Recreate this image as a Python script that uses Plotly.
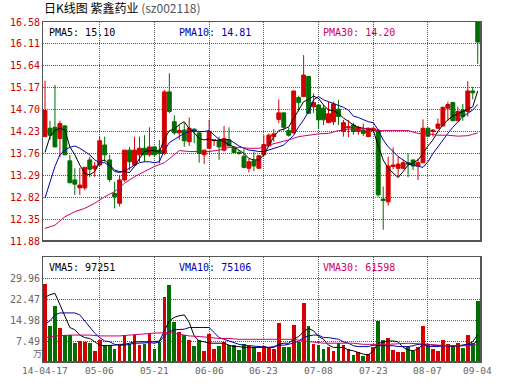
import plotly.graph_objects as go

# ---------------- data ----------------
bar_idx = list(range(88))
open_ = [14.12, 14.30, 14.32, 14.08, 14.35, 13.60, 13.19, 13.02, 13.02, 13.62,
         13.43, 13.51, 13.94, 13.62, 12.90, 12.69, 13.19, 13.83, 13.51, 13.73,
         13.87, 13.73, 13.90, 13.83, 13.76, 15.08, 14.44, 14.20, 14.26, 14.01,
         14.28, 14.20, 13.73, 13.87, 14.04, 14.03, 13.83, 14.05, 13.89, 13.78,
         13.70, 13.44, 13.60, 13.44, 13.73, 13.92, 14.12, 14.49, 14.63, 14.25,
         14.20, 14.96, 14.98, 15.41, 14.76, 14.80, 14.73, 14.42, 14.44, 14.71,
         14.23, 14.31, 14.37, 14.23, 14.26, 14.12, 14.25, 14.26, 12.78, 12.72,
         13.48, 13.44, 13.44, 13.56, 13.62, 13.49, 13.56, 14.30, 14.23, 14.30,
         14.35, 14.73, 14.85, 14.46, 14.69, 14.66, 15.10, 16.58]
high = [15.32, 14.46, 15.23, 14.46, 14.37, 13.73, 13.44, 13.45, 13.47, 13.69,
        13.58, 14.12, 14.12, 13.73, 13.15, 13.30, 13.83, 13.90, 14.12, 14.12,
        14.15, 14.32, 13.90, 14.05, 15.12, 15.48, 14.58, 14.37, 14.41, 14.53,
        14.30, 14.23, 13.83, 14.48, 14.05, 14.12, 14.35, 14.32, 13.92, 13.83,
        13.85, 13.65, 13.80, 13.73, 14.15, 14.19, 14.28, 14.92, 14.63, 14.32,
        15.10, 15.00, 15.87, 15.42, 15.05, 14.80, 14.80, 14.87, 14.87, 14.91,
        14.48, 14.47, 14.42, 14.35, 14.40, 14.30, 14.32, 14.28, 13.05, 13.69,
        13.89, 13.69, 13.62, 13.76, 13.62, 13.65, 14.49, 14.32, 14.28, 14.51,
        14.76, 14.87, 14.87, 14.76, 14.82, 15.31, 15.19, 16.58]
low = [14.12, 14.05, 13.89, 13.68, 13.72, 13.12, 12.87, 12.87, 12.97, 13.25,
       13.26, 13.49, 13.58, 13.15, 12.58, 12.62, 13.15, 13.40, 13.49, 13.58,
       13.58, 13.69, 13.69, 13.55, 13.73, 14.62, 14.16, 14.05, 13.90, 13.92,
       13.98, 13.56, 13.53, 13.85, 13.92, 13.62, 13.80, 13.92, 13.76, 13.73,
       13.44, 13.35, 13.38, 13.44, 13.71, 13.92, 14.01, 14.41, 14.25, 14.12,
       14.18, 14.66, 14.98, 14.61, 14.63, 14.28, 14.37, 14.41, 14.37, 14.37,
       14.12, 14.11, 14.16, 14.16, 14.13, 14.12, 14.20, 12.83, 12.12, 12.64,
       13.42, 13.25, 13.42, 13.25, 13.40, 13.19, 13.55, 14.12, 14.12, 14.28,
       14.33, 14.46, 14.46, 14.46, 14.46, 14.55, 14.92, 15.68]
close = [14.68, 14.15, 13.90, 14.40, 13.73, 13.13, 13.10, 13.08, 13.46, 13.42,
         13.49, 14.03, 13.73, 13.20, 12.83, 13.19, 13.83, 13.58, 13.83, 13.87,
         13.73, 13.90, 13.73, 13.76, 15.08, 14.66, 14.20, 14.25, 14.03, 14.30,
         14.23, 13.76, 13.83, 14.23, 14.05, 13.90, 14.08, 13.92, 13.78, 13.76,
         13.46, 13.58, 13.49, 13.71, 13.95, 14.15, 14.18, 14.63, 14.32, 14.15,
         15.10, 14.85, 15.44, 14.62, 14.85, 14.48, 14.48, 14.61, 14.82, 14.55,
         14.42, 14.33, 14.23, 14.32, 14.19, 14.30, 14.30, 12.87, 12.75, 13.49,
         13.51, 13.53, 13.56, 13.53, 13.49, 13.56, 14.30, 14.13, 14.26, 14.39,
         14.75, 14.81, 14.46, 14.66, 14.55, 15.10, 15.06, 16.15]
volume = [28.0, 12.9, 19.9, 12.0, 9.7, 9.7, 6.9, 7.5, 7.3, 6.9,
          4.0, 7.9, 6.0, 6.0, 4.8, 6.0, 9.7, 6.3, 9.7, 6.0,
          6.3, 9.9, 4.8, 7.2, 23.1, 27.3, 14.1, 10.8, 9.7, 7.9,
          5.8, 7.9, 4.0, 9.9, 4.8, 5.8, 7.3, 6.0, 6.0, 4.3,
          6.3, 5.8, 5.4, 3.4, 5.8, 5.5, 4.6, 13.8, 5.5, 5.2,
          13.3, 7.2, 21.0, 12.7, 6.6, 6.1, 4.8, 5.2, 4.0, 6.7,
          6.1, 4.6, 2.5, 3.4, 2.2, 3.0, 5.2, 14.7, 7.9, 8.7,
          4.3, 3.6, 3.6, 5.5, 4.0, 5.2, 12.7, 6.0, 4.6, 4.0,
          7.9, 6.3, 5.5, 6.7, 5.0, 9.7, 6.7, 21.6]

pma5 = [13.78, 14.12, 14.25, 14.30, 14.26, 13.90, 13.73, 13.51, 13.33, 13.30,
        13.37, 13.58, 13.62, 13.51, 13.40, 13.37, 13.37, 13.35, 13.48, 13.65,
        13.80, 13.82, 13.82, 13.80, 14.06, 14.25, 14.28, 14.38, 14.44, 14.29,
        14.20, 14.08, 14.05, 14.07, 14.03, 14.05, 14.01, 13.94, 13.90, 13.83,
        13.76, 13.65, 13.62, 13.62, 13.73, 13.92, 14.12, 14.25, 14.28, 14.33,
        14.51, 14.69, 14.87, 14.92, 14.99, 14.94, 14.80, 14.69, 14.68, 14.62,
        14.52, 14.45, 14.37, 14.32, 14.30, 14.28, 14.26, 13.92, 13.62, 13.44,
        13.33, 13.24, 13.37, 13.51, 13.55, 13.62, 13.76, 13.92, 14.05, 14.23,
        14.37, 14.48, 14.56, 14.61, 14.66, 14.71, 14.76, 15.10]
pma10 = [12.80, 13.12, 13.48, 13.73, 13.83, 13.89, 13.92, 13.87, 13.80, 13.73,
         13.62, 13.56, 13.56, 13.49, 13.37, 13.35, 13.39, 13.44, 13.51, 13.56,
         13.58, 13.58, 13.56, 13.58, 13.83, 13.99, 14.06, 14.12, 14.19, 14.23,
         14.25, 14.23, 14.23, 14.25, 14.15, 14.06, 14.05, 14.06, 13.99, 13.92,
         13.87, 13.83, 13.82, 13.80, 13.80, 13.83, 13.87, 13.90, 13.94, 14.05,
         14.15, 14.33, 14.48, 14.66, 14.91, 14.98, 14.91, 14.87, 14.83, 14.78,
         14.75, 14.69, 14.56, 14.53, 14.49, 14.44, 14.42, 14.26, 14.05, 13.90,
         13.80, 13.69, 13.62, 13.55, 13.51, 13.48, 13.46, 13.58, 13.76, 13.90,
         14.05, 14.19, 14.32, 14.44, 14.55, 14.62, 14.69, 14.81]
pma30_idx = [0, 2, 4, 6, 8, 10, 12, 14, 16, 18, 20, 22, 24, 26, 27, 29, 31, 33,
             35, 37, 39, 41, 43, 44, 45, 47, 49, 51, 53, 55, 57, 59, 61, 63, 65,
             67, 69, 71, 73, 75, 77, 79, 81, 83, 85, 86, 87]
pma30 = [12.15, 12.22, 12.40, 12.51, 12.58, 12.69, 12.83, 12.94, 13.12, 13.26,
         13.37, 13.48, 13.56, 13.73, 13.82, 13.80, 13.80, 13.80, 13.83, 13.89,
         13.89, 13.87, 13.87, 13.89, 13.94, 13.99, 14.05, 14.12, 14.15, 14.18,
         14.19, 14.25, 14.28, 14.28, 14.30, 14.25, 14.25, 14.25, 14.25, 14.19,
         14.18, 14.15, 14.15, 14.13, 14.14, 14.17, 14.20]

vma5 = [23.1, 24.0, 24.5, 20.4, 15.9, 12.3, 11.5, 9.6, 8.7, 8.4,
        7.2, 6.0, 5.8, 5.8, 6.0, 6.3, 6.3, 6.7, 7.2, 7.2,
        7.2, 7.2, 7.2, 7.5, 11.1, 14.7, 15.9, 16.5, 16.8, 14.1,
        9.3, 7.5, 7.2, 6.7, 6.7, 6.7, 6.7, 6.0, 5.5, 5.5,
        5.2, 5.2, 5.2, 5.2, 5.2, 5.2, 5.2, 6.3, 6.7, 6.7,
        8.1, 9.1, 10.8, 12.0, 11.1, 9.1, 8.1, 6.0, 5.2, 5.2,
        5.2, 4.3, 4.0, 3.4, 2.8, 2.5, 4.0, 6.7, 7.2, 7.5,
        7.5, 7.2, 5.2, 4.3, 4.0, 4.6, 6.3, 6.3, 6.0, 5.8,
        5.8, 5.8, 5.5, 5.8, 6.0, 6.3, 7.2, 9.73]
vma10 = [13.5, 14.7, 16.8, 17.5, 17.5, 17.5, 17.5, 16.8, 14.7, 12.3,
         10.3, 8.7, 7.5, 7.2, 6.3, 6.0, 6.0, 6.3, 6.7, 6.7,
         6.9, 6.9, 6.7, 7.2, 9.3, 10.8, 11.5, 11.7, 11.7, 12.3,
         12.3, 12.3, 12.3, 12.3, 10.5, 8.7, 8.1, 7.5, 6.7, 6.3,
         6.0, 5.8, 5.8, 5.5, 5.2, 5.2, 5.5, 6.0, 6.0, 6.3,
         6.7, 7.5, 8.7, 9.3, 9.6, 9.6, 8.7, 8.7, 8.4, 8.1,
         7.2, 6.7, 5.8, 5.5, 5.5, 5.5, 6.0, 5.8, 5.8, 5.8,
         5.8, 5.5, 5.5, 5.5, 5.8, 6.3, 6.3, 5.5, 5.5, 5.5,
         5.8, 5.8, 5.8, 5.8, 5.8, 6.3, 6.3, 7.51]
vma30_idx = [0, 2, 5, 9, 11, 15, 17, 19, 21, 22, 25, 27, 29, 31, 33, 35, 37,
             39, 44, 50, 52, 54, 56, 62, 64, 69, 73, 77, 79, 83, 85, 87]
vma30 = [8.7, 9.3, 9.6, 9.6, 9.3, 9.3, 9.6, 9.9, 10.2, 10.3, 10.5, 9.9, 9.3,
         9.1, 8.7, 8.4, 8.4, 8.1, 8.1, 8.1, 7.5, 7.2, 6.7, 6.7, 6.3, 6.3, 6.7,
         6.3, 6.0, 5.8, 5.8, 6.16]

date_pos = [0, 11, 22, 33, 44, 55, 66, 77, 87]
date_labels = ["14-04-17", "05-06", "05-21", "06-06", "06-23",
               "07-08", "07-23", "08-07", "09-04"]
price_ticks = [11.88, 12.35, 12.82, 13.29, 13.76, 14.23, 14.70, 15.17, 15.64, 16.11, 16.58]
price_labels = ["11.88", "12.35", "12.82", "13.29", "13.76", "14.23",
                "14.70", "15.17", "15.64", "16.11", "16.58"]
vol_ticks = [7.49, 14.98, 22.47, 29.96]
vol_labels = ["7.49", "14.98", "22.47", "29.96"]
vol_unit = "万"
title_main = "日K线图 紫鑫药业"
title_code = "(sz002118)"
price_legend = ["PMA5: 15.10", "PMA10: 14.81", "PMA30: 14.20"]
vol_legend = ["VMA5: 97251", "VMA10: 75106", "VMA30: 61598"]

# ---------------- styles ----------------
RED = "#d20000"
GREEN = "#006e00"
BLUE = "#0000aa"
MAG = "#cc0066"
GRID = "#555555"
MONO = "DejaVu Sans Mono"
CJK = "Noto Sans CJK SC"

W, H = 530, 391
ML, MR, MT, MB = 43, 49, 22, 29
PW = W - ML - MR
PH = H - MT - MB


def px_x(p):
    return (p - ML) / PW


def px_y(p):
    return (H - MB - p) / PH


XR = [-0.4, 87.66]

fig = go.Figure()

fig.add_trace(go.Candlestick(
    x=bar_idx, open=open_, high=high, low=low, close=close,
    increasing=dict(line=dict(color=RED, width=1), fillcolor=RED),
    decreasing=dict(line=dict(color=GREEN, width=1), fillcolor=GREEN),
    whiskerwidth=0, xaxis="x", yaxis="y", hoverinfo="skip", showlegend=False))

for ys, xs, col in [(pma5, bar_idx, "#000000"), (pma10, bar_idx, BLUE),
                    (pma30, pma30_idx, MAG)]:
    fig.add_trace(go.Scatter(x=xs, y=ys, mode="lines", line=dict(color=col, width=1),
                             xaxis="x", yaxis="y", hoverinfo="skip", showlegend=False))

vol_colors = [RED if c >= o else GREEN for o, c in zip(open_, close)]
fig.add_trace(go.Bar(x=bar_idx, y=volume, marker=dict(color=vol_colors, line=dict(width=0)),
                     width=0.75, xaxis="x2", yaxis="y2", hoverinfo="skip", showlegend=False))

for ys, xs, col in [(vma5, bar_idx, "#000000"), (vma10, bar_idx, BLUE),
                    (vma30, vma30_idx, MAG)]:
    fig.add_trace(go.Scatter(x=xs, y=ys, mode="lines", line=dict(color=col, width=1),
                             xaxis="x2", yaxis="y2", hoverinfo="skip", showlegend=False))

grid_pos = date_pos[1:-1]
axis_common = dict(showgrid=True, gridcolor=GRID, griddash="1px,1px", gridwidth=1,
                   showline=True, mirror=True, linecolor=GRID, linewidth=1,
                   zeroline=False, ticks="", fixedrange=True, automargin=False)

price_dom = [px_y(241), 1]
vol_dom = [0, px_y(257)]

# slightly heavier bottom / right frame edges, as in the original widget
shapes = []
for xr, yr in [("x domain", "y domain"), ("x2 domain", "y2 domain")]:
    shapes.append(dict(type="line", xref=xr, yref=yr, x0=0, x1=1, y0=0, y1=0,
                       line=dict(color=GRID, width=2), layer="above"))
    shapes.append(dict(type="line", xref=xr, yref=yr, x0=1, x1=1, y0=0, y1=1,
                       line=dict(color=GRID, width=2), layer="above"))

fig.update_layout(
    template="none",
    width=W, height=H, margin=dict(l=ML, r=MR, t=MT, b=MB, autoexpand=False),
    paper_bgcolor="white", plot_bgcolor="white", boxgap=0.22, boxgroupgap=0,
    bargap=0, showlegend=False, shapes=shapes,
    xaxis=dict(domain=[0, 1], anchor="y", range=XR, tickvals=grid_pos,
               showticklabels=False, rangeslider=dict(visible=False), **axis_common),
    yaxis=dict(domain=price_dom, anchor="x", range=[price_ticks[0], price_ticks[-1]],
               tickvals=price_ticks, ticktext=price_labels,
               tickfont=dict(family=MONO, size=10, color="#cc0000"), **axis_common),
    xaxis2=dict(domain=[0, 1], anchor="y2", range=XR, tickvals=grid_pos,
                showticklabels=False, **axis_common),
    yaxis2=dict(domain=vol_dom, anchor="x2", range=[0, vol_ticks[0] * 5],
                tickvals=vol_ticks, ticktext=vol_labels,
                tickfont=dict(family=MONO, size=10, color="#666666"), **axis_common),
)

ann = []
for pos, lab in zip(date_pos, date_labels):
    ann.append(dict(x=pos, xref="x2", y=px_y(370), yref="paper", text=lab,
                    showarrow=False, xanchor="center", yanchor="middle",
                    font=dict(family=MONO, size=9.5, color="#666666")))
ann.append(dict(x=px_x(37), xref="paper", y=px_y(353), yref="paper", text=vol_unit,
                showarrow=False, xanchor="center", yanchor="middle",
                font=dict(family=CJK, size=9, color="#666666")))
ann.append(dict(x=px_x(42), xref="paper", y=px_y(7.5), yref="paper",
                text=title_main + ' <span style="color:#555555">' + title_code + '</span>',
                showarrow=False, xanchor="left", yanchor="middle",
                font=dict(family=CJK, size=12, color="#000000")))
for lx, txt, col in zip([47, 177, 321], price_legend, ["#000000", BLUE, MAG]):
    ann.append(dict(x=px_x(lx), xref="paper", y=px_y(32), yref="paper", text=txt,
                    showarrow=False, xanchor="left", yanchor="middle",
                    font=dict(family=MONO, size=10, color=col)))
for lx, txt, col in zip([47, 177, 321], vol_legend, ["#000000", BLUE, MAG]):
    ann.append(dict(x=px_x(lx), xref="paper", y=px_y(267), yref="paper", text=txt,
                    showarrow=False, xanchor="left", yanchor="middle",
                    font=dict(family=MONO, size=10, color=col)))
fig.update_layout(annotations=ann)

fig.write_html("out.html", config=dict(displayModeBar=False),
               post_script="document.body.style.margin='0';document.body.style.padding='0';")
